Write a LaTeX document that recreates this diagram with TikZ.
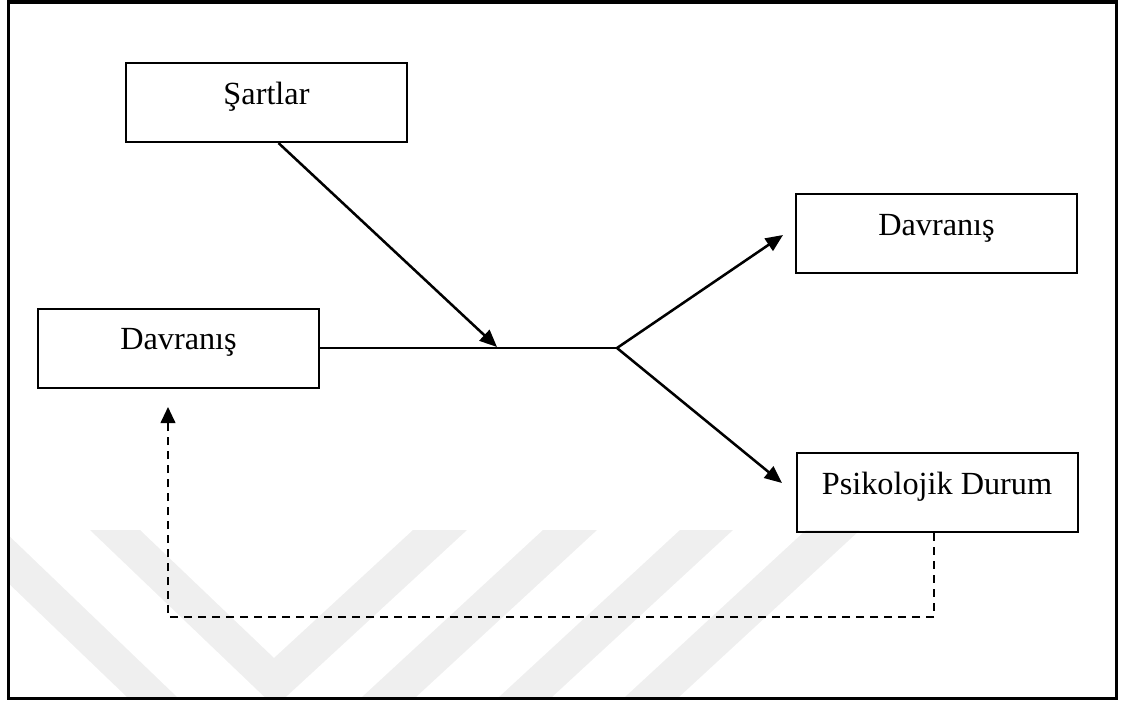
\documentclass[tikz,border=0pt]{standalone}
\usepackage{fontspec}
\setmainfont{Liberation Serif}
\usetikzlibrary{arrows.meta}
\definecolor{wm}{RGB}{239,239,239}
\begin{document}
\begin{tikzpicture}[x=0.75pt,y=-0.75pt,
  box/.style={draw, line width=1.5pt, inner sep=0pt, anchor=north,
    minimum width=210.75pt, text height=30.75pt, text depth=28.5pt,
    font=\fontsize{24.2}{29}\selectfont},
  link/.style={line width=1.5pt},
  conn/.style={line width=1.9pt, -{Triangle[length=13pt,width=11pt]}},
  fbk/.style={line width=1.5pt, dash pattern=on 6pt off 4.5pt,
    -{Triangle[length=12pt,width=11pt]}},
  frame/.style={line width=2.8pt}]
\useasboundingbox (0,0) rectangle (1124,704);

% faint background bands
\begin{scope}
  \clip (10,3.5) rectangle (1115,697);
  \fill[wm] (-47,530) -- (3,530) -- (177,697) -- (127,697) -- cycle;
  \fill[wm] (90,530) -- (140,530) -- (274,658) -- (413,530) -- (467,530) -- (275,707) -- cycle;
  \fill[wm] (543,530) -- (597,530) -- (416,697) -- (362,697) -- cycle;
  \fill[wm] (680,530) -- (733,530) -- (552,697) -- (499,697) -- cycle;
  \fill[wm] (806,530) -- (860,530) -- (679,697) -- (625,697) -- cycle;
\end{scope}

% outer frame
\draw[frame] (8.5,1.8) rectangle (1116.5,698.5);

% boxes
\node[box] (sartlar) at (266.5,62)  {Şartlar};
\node[box] (d1)      at (178.5,307.5) {Davranış};
\node[box] (d2)      at (936.5,193) {Davranış};
\node[box] (psi)     at (937,452)   {Psikolojik Durum};

% junction points and free ends
\coordinate (br) at (617,347);
\coordinate (j)  at (497,347);
\coordinate (t1) at (783,235);
\coordinate (t2) at (782,483);
\coordinate (fc) at (168,617);
\coordinate (ft) at (168,407);

% connectors
\draw[link] (d1.east) -- (d1.east -| br);
\draw[conn] ([xshift=9pt]sartlar.south) -- (j);
\draw[conn] (d1.east -| br) -- (t1);
\draw[conn] (d1.east -| br) -- (t2);
\draw[fbk] ([xshift=-2.25pt]psi.south) |- (fc) -- (ft);
\end{tikzpicture}
\end{document}
